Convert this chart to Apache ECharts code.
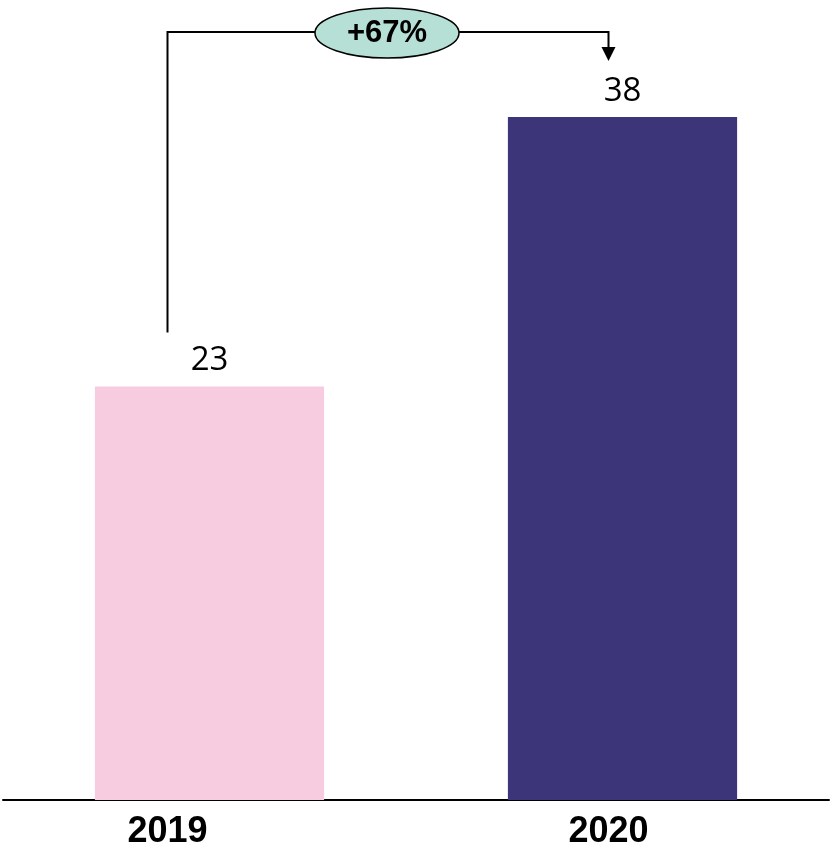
<!DOCTYPE html>
<html><head><meta charset="utf-8">
<script src="https://cdn.jsdelivr.net/npm/echarts@6/dist/echarts.min.js"></script>
<style>html,body{margin:0;padding:0;background:#fff}#c{width:831px;height:850px}</style>
</head><body><div id="c"></div>
<script>
const categories = ['2019', '2020'];
const values = [23, 38];
const barColors = ['#F7CCE1', '#3D357A'];
const changeLabel = '+67%';

const chart = echarts.init(document.getElementById('c'));
const option = {
  animation: false,
  grid: { left: 3, right: 2, top: 81, bottom: 39 },
  xAxis: {
    type: 'category', data: categories,
    axisLine: { lineStyle: { color: '#000', width: 2 } },
    axisTick: { show: false },
    axisLabel: {
      margin: 14,
      formatter: (v, i) => '{l' + i + '|' + v + '}',
      rich: {
        l0: { fontFamily: 'Liberation Sans Narrow, Liberation Sans', fontWeight: 'bold', fontSize: 36, color: '#000', padding: [0, 84, 0, 0] },
        l1: { fontFamily: 'Liberation Sans Narrow, Liberation Sans', fontWeight: 'bold', fontSize: 36, color: '#000', padding: [0, 28, 0, 0] }
      }
    }
  },
  yAxis: { type: 'value', min: 0, max: 40, show: false, splitLine: { show: false } },
  series: [{
    type: 'bar', barWidth: '55.5%',
    data: values.map((v, i) => ({ value: v, itemStyle: { color: barColors[i] } })),
    label: { show: true, position: 'top', distance: 9, color: '#000', fontSize: 33, fontFamily: 'Open Sans, Liberation Sans' }
  }]
};
chart.setOption(option);

// annotation from 2019 label to 2020 label
const p0 = chart.convertToPixel({ seriesIndex: 0 }, [0, values[0]]);
const p1 = chart.convertToPixel({ seriesIndex: 0 }, [1, values[1]]);
const x0 = p0[0] - 42, x1 = p1[0] - 14;
const yTop = 32;
const yStart = p0[1] - 54;
const yEnd = p1[1] - 56;
const cx = (x0 + x1) / 2 - 1;
chart.setOption({
  graphic: [
    { type: 'polyline', shape: { points: [[x0, yStart], [x0, yTop], [x1, yTop], [x1, yEnd - 10]] }, style: { stroke: '#000', lineWidth: 2, fill: null } },
    { type: 'polygon', shape: { points: [[x1 - 7, yEnd - 14], [x1 + 7, yEnd - 14], [x1, yEnd]] }, style: { fill: '#000' } },
    { type: 'ellipse', shape: { cx: cx, cy: yTop + 1, rx: 72, ry: 25 }, style: { fill: '#B6DFD6', stroke: '#000', lineWidth: 1.5 } },
    { type: 'text', x: cx, y: yTop + 1, style: { text: changeLabel, fill: '#000', font: 'bold 31px Liberation Sans', align: 'center', verticalAlign: 'middle' } }
  ]
});
</script></body></html>
